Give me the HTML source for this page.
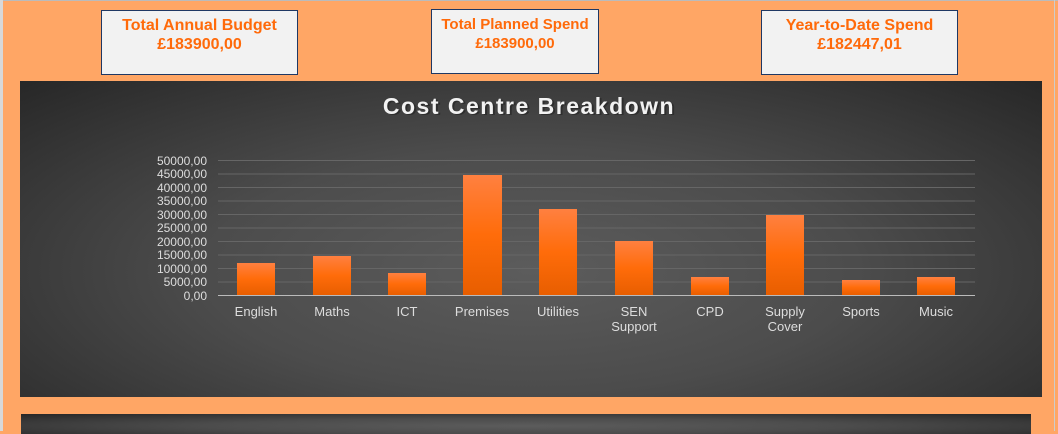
<!DOCTYPE html>
<html><head><style>
html,body{margin:0;padding:0}
body{width:1058px;height:431px;background:#FFA665;position:relative;overflow:hidden;font-family:"Liberation Sans",sans-serif}
.lg{position:absolute;left:0;top:0;width:3px;height:431px;background:#d8d8d8}
.tp{position:absolute;left:0;top:0;width:1058px;height:1px;background:#bbb}
.box{position:absolute;background:#f2f2f2;border:1px solid #1f3864;color:#FF6A0A;font-weight:bold;font-size:16px;text-align:center;line-height:19px;box-sizing:border-box;padding-top:5px}
.chart{position:absolute;background:radial-gradient(ellipse at 50% 60%,#5c5c5c 0%,#4c4c4c 45%,#272727 100%)}
</style></head><body>
<div class="tp"></div><div class="lg"></div>
<div class="box" style="left:101px;top:10px;width:197px;height:65px">Total Annual Budget<br>£183900,00</div>
<div class="box" style="left:431px;top:9px;width:168px;height:65px;font-size:15px">Total Planned Spend<br>£183900,00</div>
<div class="box" style="left:761px;top:10px;width:197px;height:65px">Year-to-Date Spend<br>£182447,01</div>
<div class="chart" style="left:20px;top:81px;width:1022px;height:316px"></div>
<div class="chart" style="left:21px;top:414px;width:1010px;height:20px"></div>
<div style="position:absolute;left:1054px;top:0;width:1px;height:431px;background:#ccc"></div>
<svg style="position:absolute;left:0;top:0" width="1058" height="431">
<defs><linearGradient id="b" x1="0" y1="0" x2="0" y2="1"><stop offset="0" stop-color="#FF8040"/><stop offset="0.5" stop-color="#FF6C0A"/><stop offset="1" stop-color="#E85E00"/></linearGradient></defs>
<text x="531" y="115" fill="#222" opacity="0.6" font-size="23" font-weight="bold" text-anchor="middle" letter-spacing="1.5" font-family="Liberation Sans">Cost Centre Breakdown</text>
<text x="529" y="114" fill="#f2f2f2" font-size="23" font-weight="bold" text-anchor="middle" letter-spacing="1.5" font-family="Liberation Sans">Cost Centre Breakdown</text>
<g stroke="#666" stroke-width="1">
<line x1="218" x2="975" y1="160.5" y2="160.5"/><line x1="218" x2="975" y1="174" y2="174"/><line x1="218" x2="975" y1="187.5" y2="187.5"/><line x1="218" x2="975" y1="201" y2="201"/><line x1="218" x2="975" y1="214.5" y2="214.5"/><line x1="218" x2="975" y1="228" y2="228"/><line x1="218" x2="975" y1="241.5" y2="241.5"/><line x1="218" x2="975" y1="255" y2="255"/><line x1="218" x2="975" y1="268.5" y2="268.5"/><line x1="218" x2="975" y1="282" y2="282"/>
</g>
<g fill="#ddd" font-size="12" text-anchor="end" font-family="Liberation Sans">
<text x="207" y="165">50000,00</text><text x="207" y="178">45000,00</text><text x="207" y="192">40000,00</text><text x="207" y="205">35000,00</text><text x="207" y="219">30000,00</text><text x="207" y="232">25000,00</text><text x="207" y="246">20000,00</text><text x="207" y="259">15000,00</text><text x="207" y="273">10000,00</text><text x="207" y="286">5000,00</text><text x="207" y="300">0,00</text>
</g>
<g fill="url(#b)">
<rect x="237" y="263" width="38" height="32"/><rect x="313" y="256" width="38" height="39"/><rect x="388" y="273" width="38" height="22"/><rect x="463" y="175" width="39" height="120"/><rect x="539" y="209" width="38" height="86"/><rect x="615" y="241" width="38" height="54"/><rect x="691" y="277" width="38" height="18"/><rect x="766" y="215" width="38" height="80"/><rect x="842" y="280" width="38" height="15"/><rect x="917" y="277" width="38" height="18"/>
</g>
<line x1="218" x2="975" y1="295.5" y2="295.5" stroke="#bbb"/>
<g fill="#ddd" font-size="13" text-anchor="middle" font-family="Liberation Sans">
<text x="256" y="316">English</text><text x="332" y="316">Maths</text><text x="407" y="316">ICT</text><text x="482" y="316">Premises</text><text x="558" y="316">Utilities</text><text x="634" y="316">SEN</text><text x="634" y="331">Support</text><text x="710" y="316">CPD</text><text x="785" y="316">Supply</text><text x="785" y="331">Cover</text><text x="861" y="316">Sports</text><text x="936" y="316">Music</text>
</g>
</svg>
</body></html>
